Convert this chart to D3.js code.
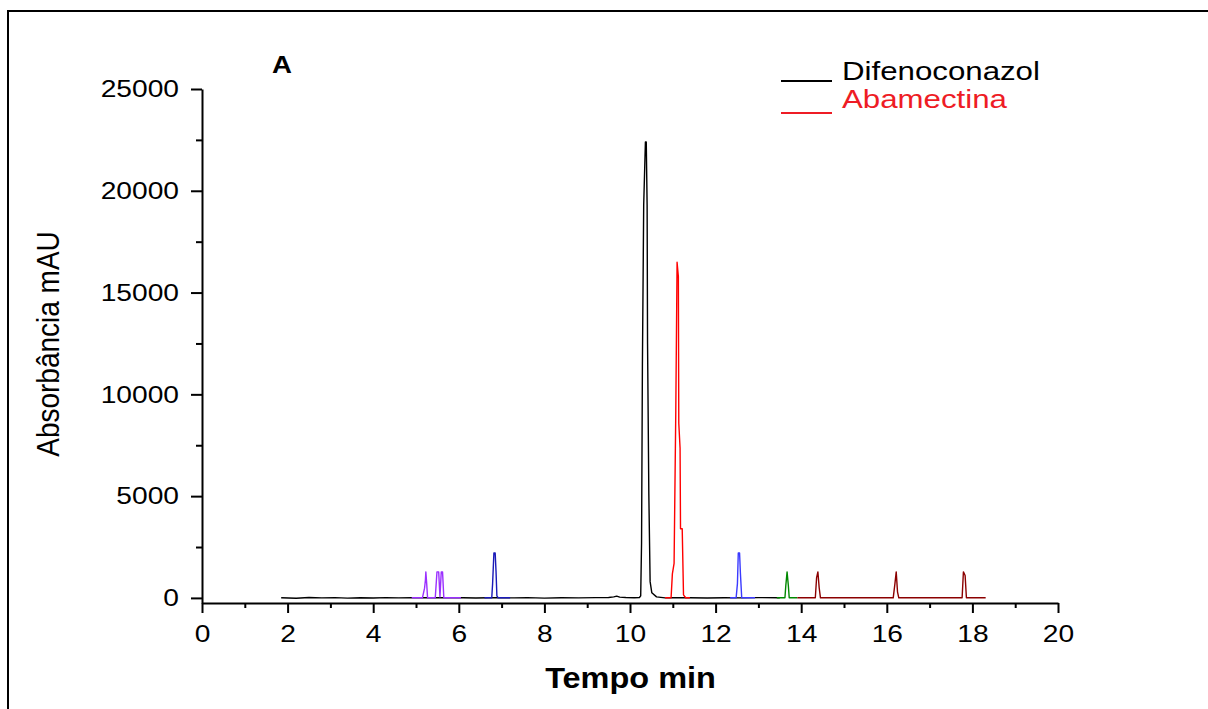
<!DOCTYPE html>
<html>
<head>
<meta charset="utf-8">
<script src="https://cdn.jsdelivr.net/npm/d3@7"></script>
<style>
  html, body { margin: 0; padding: 0; background: #fff; }
  svg { display: block; font-family: "Liberation Sans", Arial, sans-serif; }
</style>
</head>
<body>
<div id="chart"></div>
<script>
// Data: [tempo (min), absorbância (mAU)]
const difenoconazol = [
  [1.85, 10], [2.2, -15], [2.5, 20], [2.8, 0], [3.1, 15], [3.4, -10], [3.7, 10],
  [4.0, -5], [4.3, 15], [4.6, 0], [4.9, 10], [5.5, 5], [6.1, 10], [6.4, -5],
  [6.7, 10], [7.0, 5], [7.3, 0], [7.6, 15], [8.0, -10], [8.4, 10], [8.8, 0],
  [9.2, 15], [9.5, 20], [9.62, 50], [9.69, 90], [9.76, 40], [9.9, 20], [10.1, 10],
  [10.22, 20], [10.25, 100], [10.27, 2700], [10.29, 11500], [10.32, 19300],
  [10.36, 22400], [10.38, 22400], [10.40, 19300], [10.41, 12500], [10.44, 5100],
  [10.47, 800], [10.51, 250], [10.62, 50], [10.82, 0], [11.0, 10], [11.4, 10],
  [11.8, -5], [12.2, 10], [12.6, 0], [13.0, 15], [13.5, 5]
];
const abamectina = [
  [10.82, 5], [10.96, 10], [10.99, 1180], [11.03, 1700], [11.07, 9180],
  [11.10, 16490], [11.13, 15780], [11.14, 8580], [11.17, 7350], [11.18, 3400],
  [11.22, 3400], [11.25, 150], [11.3, 10], [11.4, 5]
];
const peaksA = [
  [4.9, 5], [5.15, 5], [5.2, 480], [5.22, 880], [5.23, 1280], [5.25, 700], [5.27, 5],
  [5.45, 5], [5.49, 1280], [5.53, 1280], [5.56, 50], [5.59, 1280], [5.62, 1280],
  [5.65, 5], [6.05, 5]
];
const peaksB = [
  [6.6, 5], [6.77, 5], [6.79, 700], [6.82, 2210], [6.85, 2210], [6.87, 1300],
  [6.89, 100], [6.92, 5], [7.2, 5]
];
const peaksC = [
  [12.34, 5], [12.48, 5], [12.51, 700], [12.53, 2210], [12.56, 2210], [12.58, 1200],
  [12.61, 5], [12.92, 5]
];
const peaksD = [
  [13.43, 5], [13.62, 5], [13.64, 600], [13.67, 1280], [13.70, 600], [13.72, 5], [13.91, 5]
];
const peaksE = [
  [13.91, 5], [14.33, 5], [14.36, 1000], [14.39, 1280], [14.42, 500], [14.45, 5],
  [16.15, 5], [16.19, 700], [16.22, 1280], [16.25, 300], [16.28, 5],
  [17.76, 5], [17.79, 1280], [17.83, 1100], [17.86, 5], [18.31, 5]
];

const xMajor = [0, 2, 4, 6, 8, 10, 12, 14, 16, 18, 20];
const xMinor = [1, 3, 5, 7, 9, 11, 13, 15, 17, 19];
const yMajor = [0, 5000, 10000, 15000, 20000, 25000];
const yMinor = [2500, 7500, 12500, 17500, 22500];
const legendNames = ["Difenoconazol", "Abamectina"];

const series = [
  { data: difenoconazol, color: "#000000" },
  { data: peaksA, color: "#9b30ff" },
  { data: peaksB, color: "#1a1ab8" },
  { data: abamectina, color: "#ff0000" },
  { data: peaksC, color: "#3a3aff" },
  { data: peaksD, color: "#008800" },
  { data: peaksE, color: "#8b0000" }
];

const W = 1208, H = 709;
const svg = d3.select("#chart").append("svg")
  .attr("width", W)
  .attr("height", H);

// outer frame (runs off right/bottom edge)
svg.append("rect")
  .attr("x", 8).attr("y", 11)
  .attr("width", 1300).attr("height", 800)
  .attr("fill", "none").attr("stroke", "#000").attr("stroke-width", 2);

const x = d3.scaleLinear().domain([0, 20]).range([202, 1058]);
const y = d3.scaleLinear().domain([-250, 25000]).range([603, 89]);

const stretch = 1.15;

// x axis
const gx = svg.append("g").attr("transform", `translate(0,${y(-250)})`);
gx.call(d3.axisBottom(x).tickValues(xMajor).tickSize(10).tickSizeOuter(0).tickFormat(d3.format("d")));
gx.append("g").call(d3.axisBottom(x).tickValues(xMinor).tickSize(5).tickSizeOuter(0).tickFormat(""))
  .select(".domain").remove();

// y axis
const gy = svg.append("g").attr("transform", `translate(${x(0)},0)`);
gy.call(d3.axisLeft(y).tickValues(yMajor).tickSize(11).tickSizeOuter(0).tickFormat(d3.format("d")));
gy.append("g").call(d3.axisLeft(y).tickValues(yMinor).tickSize(6).tickSizeOuter(0).tickFormat(""))
  .select(".domain").remove();

svg.selectAll(".domain, .tick line").attr("stroke", "#000").attr("stroke-width", 2);
svg.selectAll(".tick text")
  .attr("fill", "#000")
  .attr("font-size", "24.5px")
  .attr("font-family", "'Liberation Sans', Arial, sans-serif");

gx.selectAll(".tick text")
  .attr("y", 21.6)
  .style("transform-box", "fill-box")
  .style("transform-origin", "center")
  .attr("transform", `scale(${stretch},1)`);
gy.selectAll(".tick text")
  .attr("x", -23)
  .style("transform-box", "fill-box")
  .style("transform-origin", "right center")
  .attr("transform", `scale(${stretch},1)`);

// traces
const line = d3.line()
  .x(d => x(d[0]))
  .y(d => y(d[1]));

svg.append("g")
  .selectAll("path")
  .data(series)
  .join("path")
  .attr("d", d => line(d.data))
  .attr("fill", "none")
  .attr("stroke", d => d.color)
  .attr("stroke-width", 1.4)
  .attr("stroke-linejoin", "round");

// axis titles
svg.append("text")
  .attr("transform", `translate(630.5,688) scale(1.12,1)`)
  .attr("text-anchor", "middle")
  .attr("font-size", "29px")
  .attr("font-weight", "bold")
  .text("Tempo min");

svg.append("text")
  .attr("transform", `translate(59,344) scale(${stretch},1) rotate(-90)`)
  .attr("text-anchor", "middle")
  .attr("font-size", "28px")
  .text("Absorbância mAU");

// panel label
svg.append("text")
  .attr("transform", `translate(282,73) scale(${stretch},1)`)
  .attr("text-anchor", "middle")
  .attr("font-size", "24px")
  .attr("font-weight", "bold")
  .text("A");

// legend
const legend = svg.append("g");
const legendColors = ["#000000", "#ee1c25"];
const legendRows = legend.selectAll("g")
  .data(legendNames)
  .join("g")
  .attr("transform", (d, i) => `translate(781,${i === 0 ? 80 : 108})`);

legendRows.append("line")
  .attr("x1", 0).attr("x2", 51)
  .attr("y1", (d, i) => i === 0 ? 1 : 5)
  .attr("y2", (d, i) => i === 0 ? 1 : 5)
  .attr("stroke", (d, i) => legendColors[i])
  .attr("stroke-width", 2);

legendRows.append("text")
  .attr("transform", "translate(61,0) scale(1.25,1)")
  .attr("font-size", "25px")
  .attr("fill", (d, i) => legendColors[i])
  .text(d => d);
</script>
</body>
</html>
